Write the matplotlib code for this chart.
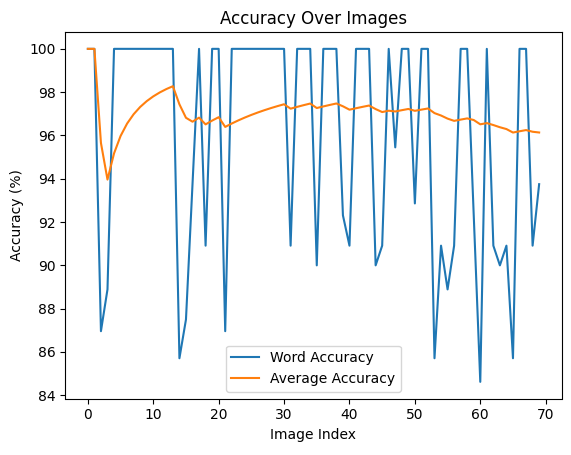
import matplotlib
matplotlib.use("Agg")
import matplotlib.pyplot as plt
import numpy as np

image_index = list(range(70))
word_accuracy = [
    100, 100, 86.96, 88.89, 100, 100, 100, 100, 100, 100,
    100, 100, 100, 100, 85.71, 87.5, 93.75, 100, 90.91, 100,
    100, 86.96, 100, 100, 100, 100, 100, 100, 100, 100,
    100, 90.91, 100, 100, 100, 90.0, 100, 100, 100, 92.31,
    90.91, 100, 100, 100, 90.0, 90.91, 100, 95.45, 100, 100,
    92.86, 100, 100, 85.71, 90.91, 88.89, 90.91, 100, 100, 92.31,
    84.62, 100, 90.91, 90.0, 90.91, 85.71, 100, 100, 90.91, 93.75,
]
average_accuracy = list(np.cumsum(word_accuracy) / np.arange(1, len(word_accuracy) + 1))

fig = plt.figure(figsize=(5.71, 4.55), dpi=100)
ax = fig.add_axes([65.3 / 571, 1 - 398.5 / 455, 496.4 / 571, 366.3 / 455])
ax.plot(image_index, word_accuracy, label="Word Accuracy")
ax.plot(image_index, average_accuracy, label="Average Accuracy")
ax.set_title("Accuracy Over Images")
ax.set_xlabel("Image Index")
ax.set_ylabel("Accuracy (%)")
ax.legend(loc="lower center")
fig.savefig("out.png", dpi=100)
